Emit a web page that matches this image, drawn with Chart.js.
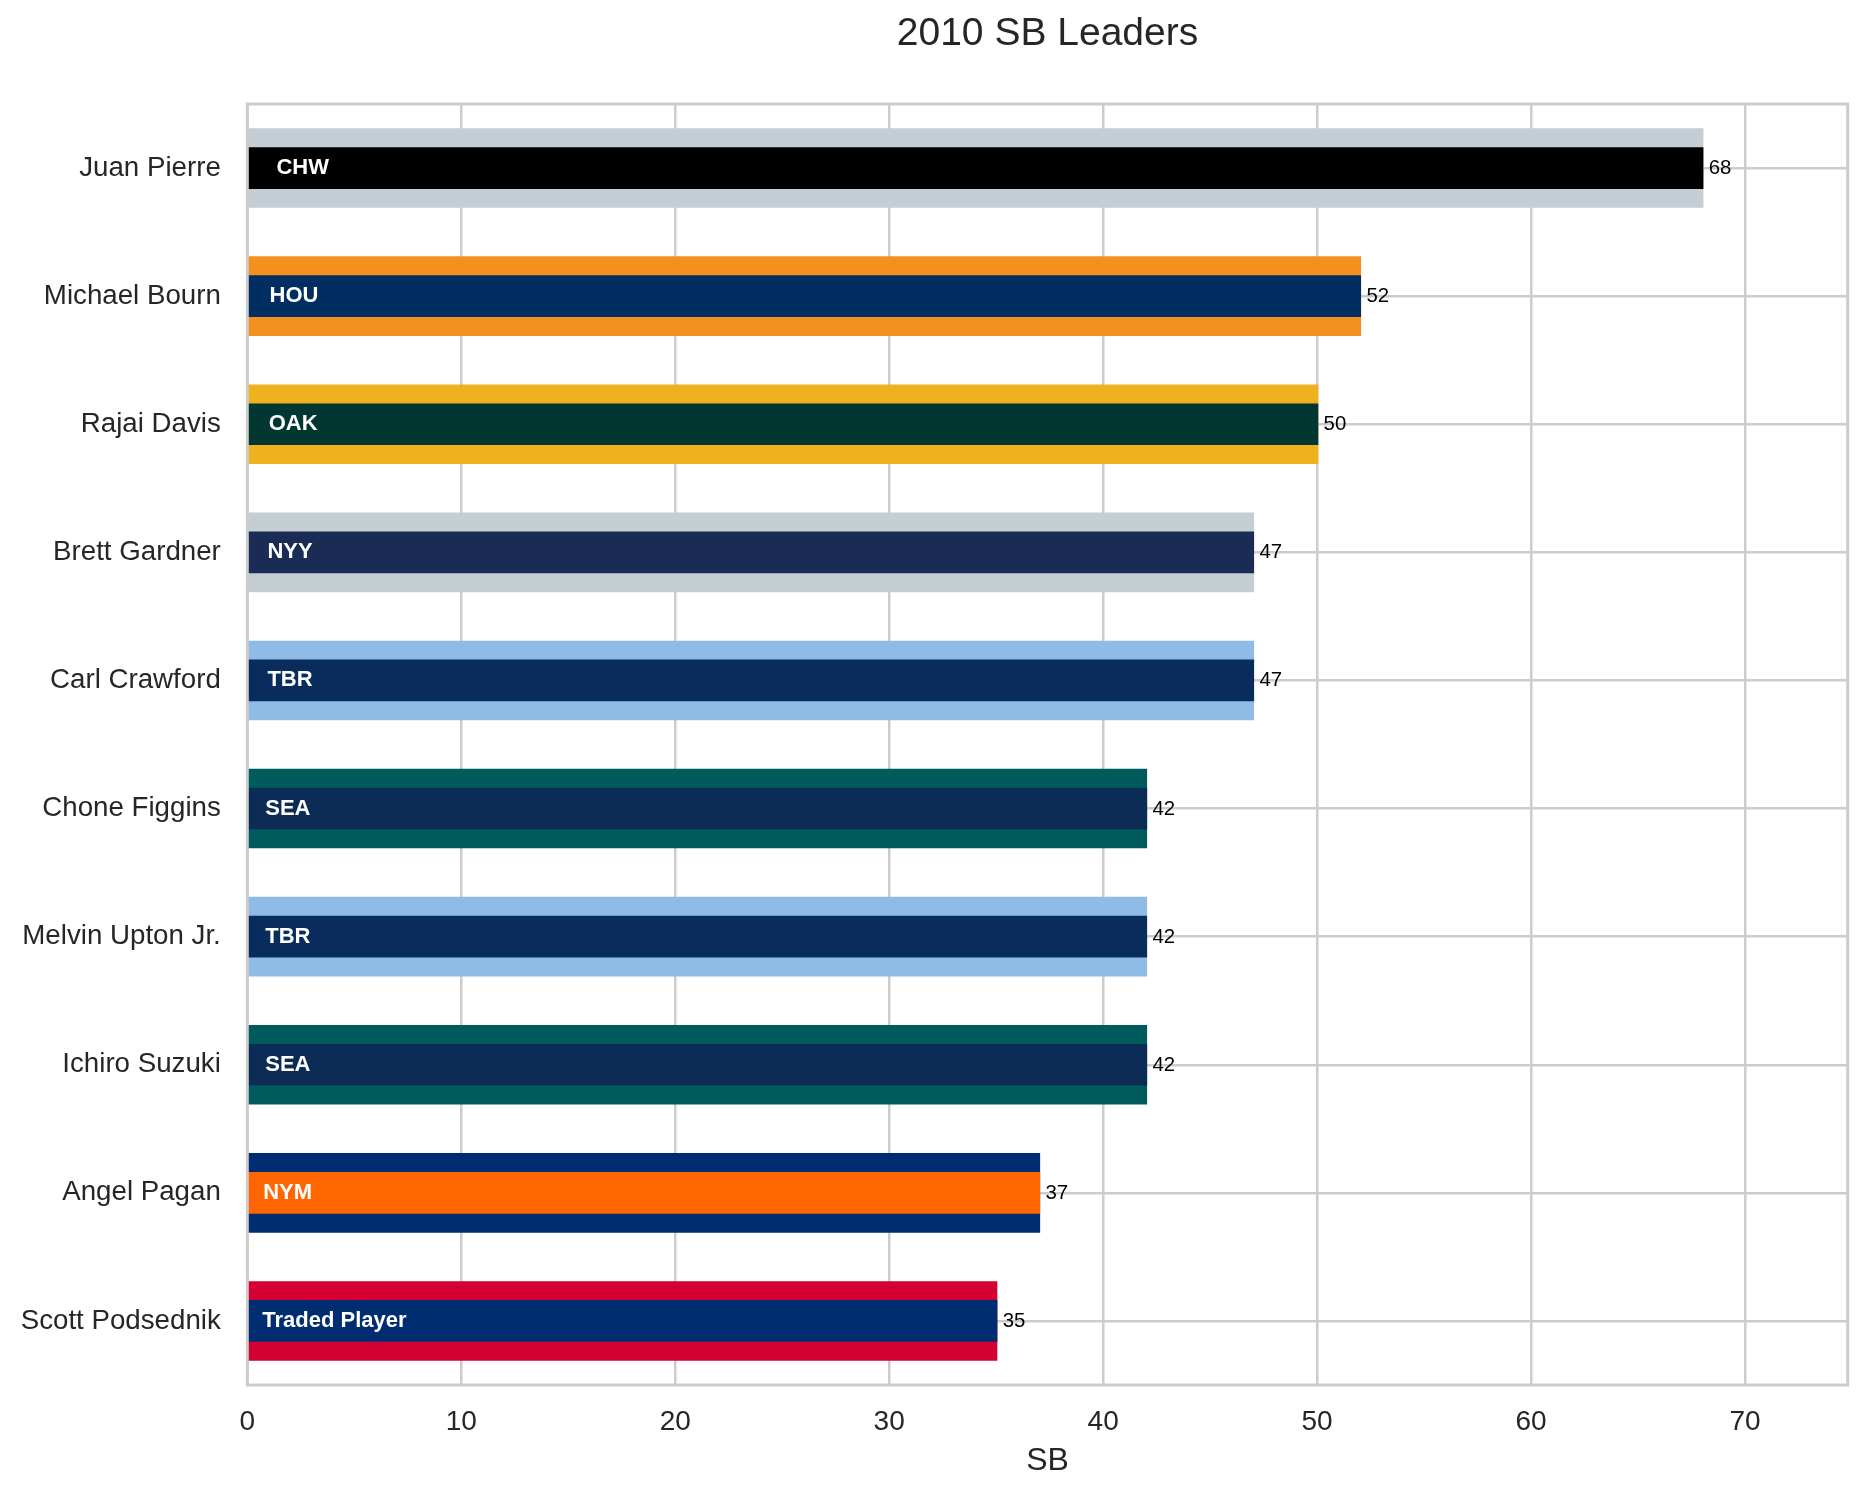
<!DOCTYPE html>
<html>
<head>
<meta charset="utf-8">
<title>2010 SB Leaders</title>
<script src="https://cdn.jsdelivr.net/npm/chart.js@4"></script>
<style>html,body{margin:0;padding:0;background:#fff}canvas{display:block}</style>
</head>
<body>
<canvas id="c" width="1867" height="1500"></canvas>
<script>
const players = ["Juan Pierre","Michael Bourn","Rajai Davis","Brett Gardner","Carl Crawford","Chone Figgins","Melvin Upton Jr.","Ichiro Suzuki","Angel Pagan","Scott Podsednik"];
const stolenBases = [68,52,50,47,47,42,42,42,37,35];
const teams = ["CHW","HOU","OAK","NYY","TBR","SEA","TBR","SEA","NYM","Traded Player"];
const outerColors = ["#C4CED4","#F4911E","#EFB21E","#C4CED3","#8FBCE6","#005C5C","#8FBCE6","#005C5C","#002D72","#D50032"];
const innerColors = ["#000000","#002D62","#003831","#1A2C56","#092C5C","#0C2C56","#092C5C","#0C2C56","#FF6600","#002D72"];
const FONT = '"Liberation Sans", Arial, sans-serif';
const GRID = '#cccccc';

const annotate = {
  id: 'annotate',
  afterDatasetsDraw(chart) {
    const {ctx, chartArea: a, scales: {x, y}} = chart;
    ctx.save();
    ctx.strokeStyle = GRID;
    ctx.lineWidth = 3;
    ctx.strokeRect(a.left, a.top, a.right - a.left, a.bottom - a.top);
    ctx.textBaseline = 'alphabetic';
    ctx.textAlign = 'left';
    stolenBases.forEach((v, i) => {
      const cy = y.getPixelForValue(i);
      ctx.font = 'bold 22px ' + FONT;
      ctx.fillStyle = '#ffffff';
      ctx.fillText(teams[i], x.getPixelForValue(v * 0.02), cy + 6);
      ctx.font = '20.4px ' + FONT;
      ctx.fillStyle = '#000000';
      ctx.fillText(String(v), x.getPixelForValue(v) + 6.5, cy + 6);
    });
    ctx.restore();
  }
};

new Chart(document.getElementById('c'), {
  type: 'bar',
  data: {
    labels: players,
    datasets: [
      {label: 'SB', data: stolenBases, backgroundColor: innerColors, order: 0, barPercentage: 0.307, categoryPercentage: 1, inflateAmount: 1.2},
      {label: 'SB (team)', data: stolenBases, backgroundColor: outerColors, order: 1, barPercentage: 0.603, categoryPercentage: 1, inflateAmount: 1.2}
    ]
  },
  options: {
    indexAxis: 'y',
    responsive: false,
    animation: false,
    grouped: false,
    devicePixelRatio: 1,
    layout: {padding: {left: 0, right: 19.3, top: 0, bottom: 0}},
    plugins: {
      legend: {display: false},
      tooltip: {enabled: false},
      title: {
        display: true,
        text: '2010 SB Leaders',
        fullSize: false,
        color: '#262626',
        font: {family: FONT, size: 39, weight: 'normal', lineHeight: 1.2},
        padding: {top: 11, bottom: 46.2}
      }
    },
    scales: {
      x: {
        type: 'linear',
        min: 0,
        max: 74.8,
        afterFit(s) { s.height = 115; },
        grid: {color: GRID, lineWidth: 2.5, drawTicks: false},
        border: {display: false},
        ticks: {stepSize: 10, includeBounds: false, padding: 20, color: '#262626', font: {family: FONT, size: 28}, maxRotation: 0},
        title: {display: true, text: 'SB', color: '#262626', font: {family: FONT, size: 32, lineHeight: 1.2}, padding: {top: 0, bottom: 19.8}}
      },
      y: {
        type: 'category',
        afterFit(s) { s.width = 247.3; },
        grid: {color: GRID, lineWidth: 2.5, drawTicks: false, offset: false},
        border: {display: false},
        ticks: {padding: 26.5, color: '#262626', font: {family: FONT, size: 27.7}, autoSkip: false}
      }
    }
  },
  plugins: [annotate]
});
</script>
</body>
</html>
